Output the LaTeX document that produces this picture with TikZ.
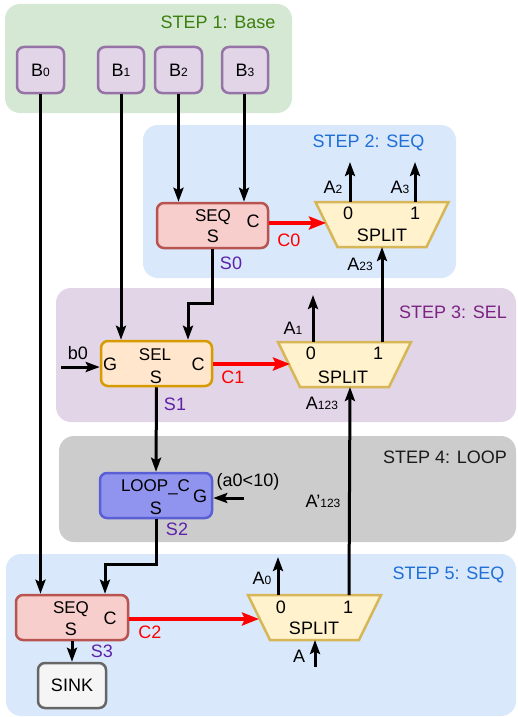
\documentclass[tikz,border=0pt]{standalone}
\usepackage{fontspec}
\setmainfont{Liberation Sans}
\usetikzlibrary{arrows.meta}
\definecolor{greenpanel}{HTML}{D5E8D4}
\definecolor{greentext}{HTML}{3D7F0F}
\definecolor{bluepanel}{HTML}{DAE8FC}
\definecolor{bluetext}{HTML}{1E6FD6}
\definecolor{purplepanel}{HTML}{E1D5E7}
\definecolor{purpletext}{HTML}{7B2482}
\definecolor{graypanel}{HTML}{CCCCCC}
\definecolor{graytext}{HTML}{1A1A1A}
\definecolor{bfill}{HTML}{E1D5E7}
\definecolor{bborder}{HTML}{9673A6}
\definecolor{seqfill}{HTML}{F8CECC}
\definecolor{seqborder}{HTML}{B85450}
\definecolor{selfill}{HTML}{FFE6CC}
\definecolor{selborder}{HTML}{D79B00}
\definecolor{loopfill}{HTML}{9094EE}
\definecolor{loopborder}{HTML}{5A5FD6}
\definecolor{splitfill}{HTML}{FFF2CC}
\definecolor{splitborder}{HTML}{D6B656}
\definecolor{sinkfill}{HTML}{F5F5F5}
\definecolor{sinkborder}{HTML}{666666}
\definecolor{stext}{HTML}{5C21A8}
\newcommand{\sbs}[1]{{\fontsize{12}{12}\selectfont #1}}
\begin{document}
\begin{tikzpicture}[x=1pt,y=-1pt,
  panel/.style={rounded corners=15pt},
  box/.style={draw, line width=2.5pt, rounded corners=7pt, inner sep=0pt, minimum height=45pt, font=\fontsize{18}{20}\selectfont},
  lbl/.style={inner sep=0pt, text height=13pt, text depth=0pt, font=\fontsize{18}{20}\selectfont},
  inlbl/.style={inner sep=0pt, text height=12.5pt, text depth=0pt, font=\fontsize{17}{20}\selectfont},
  arr/.style={line width=3pt, -{Stealth[length=14pt,width=10pt,inset=2.5pt]}},
  redarr/.style={draw=red, line width=4pt, -{Stealth[length=17pt,width=13pt,inset=3pt]}},
  splitshape/.style={draw=splitborder, fill=splitfill, line width=2.5pt, line join=miter}
]
\useasboundingbox[fill=white] (0,0) rectangle (517,717);
% panels
\path[panel, fill=greenpanel] (5,4) rectangle (292,113);
\path[panel, fill=bluepanel] (143,125) rectangle (456,278);
\path[panel, fill=purplepanel] (56,288) rectangle (516,422);
\path[panel, fill=graypanel] (59,436) rectangle (516,542);
\path[panel, fill=bluepanel] (6,554) rectangle (516,716);
% panel titles
\node[lbl, text=greentext] (t1) at (218,22) {STEP 1: Base};
\node[lbl, text=bluetext] (t2) at (368.5,141) {STEP 2: SEQ};
\node[lbl, text=purpletext] (t3) at (453,312) {STEP 3: SEL};
\node[lbl, text=graytext] (t4) at (445,457) {STEP 4: LOOP};
\node[lbl, text=bluetext] (t5) at (448.5,573) {STEP 5: SEQ};
% B boxes
\node[box, draw=bborder, fill=bfill, minimum width=47pt, minimum height=46pt] (b0) at (40.5,70) {B\sbs{0}};
\node[box, draw=bborder, fill=bfill, minimum width=46pt, minimum height=46pt] (b1) at (121,70) {B\sbs{1}};
\node[box, draw=bborder, fill=bfill, minimum width=47pt, minimum height=46pt] (b2) at (178.5,70) {B\sbs{2}};
\node[box, draw=bborder, fill=bfill, minimum width=46pt, minimum height=46pt] (b3) at (245,70) {B\sbs{3}};
% operator boxes
\node[box, draw=seqborder, fill=seqfill, minimum width=111pt] (seq0) at (212.5,225.5) {};
\node[box, draw=selborder, fill=selfill, minimum width=111pt] (sel) at (156.5,363.5) {};
\node[box, draw=loopborder, fill=loopfill, minimum width=112pt] (loop) at (156,495.5) {};
\node[box, draw=seqborder, fill=seqfill, minimum width=112pt] (seq3) at (72,617.5) {};
\node[box, draw=sinkborder, fill=sinkfill, minimum width=68pt] (sink) at (72,685.5) {SINK};
% box inner labels
\node[inlbl] (seq0n) at (213,215) {SEQ};
\node[lbl] (seq0c) at (253,221) {C};
\node[lbl] (seq0s) at (213,236) {S};
\node[inlbl] (seln) at (155,354) {SEL};
\node[lbl] (selg) at (110,364) {G};
\node[lbl] (selc) at (198,364) {C};
\node[lbl] (sels) at (156,377) {S};
\node[inlbl] (loopn) at (155.5,485.5) {LOOP\_C};
\node[lbl] (loopg) at (200,496) {G};
\node[lbl] (loops) at (156,508) {S};
\node[inlbl] (seq3n) at (71,607) {SEQ};
\node[lbl] (seq3c) at (110,618) {C};
\node[lbl] (seq3s) at (71,629) {S};
% split shapes
\draw[splitshape] (315.5,202) -- (448.5,202) -- (426.5,247) -- (337.5,247) -- cycle;
\draw[splitshape] (278,342) -- (411,342) -- (389,387) -- (300,387) -- cycle;
\draw[splitshape] (248,595) -- (381,595) -- (359,640) -- (270,640) -- cycle;
\node[lbl] (sp2n) at (382,235) {SPLIT};
\node[lbl] (sp2z) at (348,213) {0};
\node[lbl] (sp2o) at (415,213) {1};
\node[lbl] (sp3n) at (343,377) {SPLIT};
\node[lbl] (sp3z) at (311,353) {0};
\node[lbl] (sp3o) at (378,353) {1};
\node[lbl] (sp5n) at (314,628) {SPLIT};
\node[lbl] (sp5z) at (281,607) {0};
\node[lbl] (sp5o) at (348,607) {1};
% port coordinates
\coordinate (sp2l) at (326,223);
\coordinate (sp2o0) at (350,202);
\coordinate (sp2o1) at (415,202);
\coordinate (sp2in) at (382,247);
\coordinate (a2end) at (350,162);
\coordinate (a3end) at (415,162);
\coordinate (sp3l) at (290,364);
\coordinate (sp3o0) at (313,342);
\coordinate (sp3o1) at (382,342);
\coordinate (sp3in) at (350,387);
\coordinate (a1end) at (313,295);
\coordinate (sp5l) at (259,619);
\coordinate (sp5o0) at (278,595);
\coordinate (sp5o1) at (349,595);
\coordinate (sp5in) at (315,640);
\coordinate (a0end) at (278,557);
\coordinate (ainstart) at (315,667);
\coordinate (b0start) at (61,367);
\coordinate (gstart) at (244,498);
% connectors
\draw[arr] (b0.south) -- (b0.south |- seq3.north);
\draw[arr] (b1.south) -- (b1.south |- sel.north);
\draw[arr] (b2.south) -- (b2.south |- seq0.north);
\draw[arr] ([xshift=-1pt]b3.south) -- ([xshift=-1pt]b3.south |- seq0.north);
\draw[arr] (seq0.south) -- ++(0,54) -| ([xshift=31.5pt]sel.north);
\draw[redarr] (seq0.east |- sp2l) -- (sp2l);
\draw[arr] (sp2o0) -- (a2end);
\draw[arr] (sp2o1) -- (a3end);
\draw[arr] (sp3o1) -- (sp2in);
\draw[arr] (b0start) -- (b0start -| sel.west);
\draw[redarr] (sel.east |- sp3l) -- (sp3l);
\draw[arr] (sp3o0) -- (a1end);
\draw[arr] (sel.south) -- (loop.north);
\draw[arr] (gstart) -- (gstart -| loop.east);
\draw[arr] (sp5o1) -- (sp3in);
\draw[arr] (loop.south) -- ++(0,45) -| ([xshift=33pt]seq3.north);
\draw[redarr] (seq3.east |- sp5l) -- (sp5l);
\draw[arr] (sp5o0) -- (a0end);
\draw[arr] (ainstart) -- (sp5in);
\draw[arr] (seq3.south) -- (sink.north);
% connector labels
\node[lbl] (la2) at (333,187) {A\sbs{2}};
\node[lbl] (la3) at (400,187) {A\sbs{3}};
\node[lbl] (la23) at (360,264) {A\sbs{23}};
\node[lbl, text=red] (lc0) at (289,240) {C0};
\node[lbl, text=stext] (ls0) at (231,263) {S0};
\node[lbl] (la1) at (293,328) {A\sbs{1}};
\node[lbl] (la123) at (322,403) {A\sbs{123}};
\node[lbl] (lb0) at (78,353) {b0};
\node[lbl, text=red] (lc1) at (233,377) {C1};
\node[lbl, text=stext] (ls1) at (175,404) {S1};
\node[lbl] (lcond) at (248,480) {(a0<10)};
\node[lbl] (lap) at (323,501) {A'\sbs{123}};
\node[lbl, text=stext] (ls2) at (177,529) {S2};
\node[lbl] (la0) at (262,578) {A\sbs{0}};
\node[lbl] (la) at (299,656) {A};
\node[lbl, text=red] (lc2) at (150,632) {C2};
\node[lbl, text=stext] (ls3) at (102,651) {S3};
\end{tikzpicture}
\end{document}
